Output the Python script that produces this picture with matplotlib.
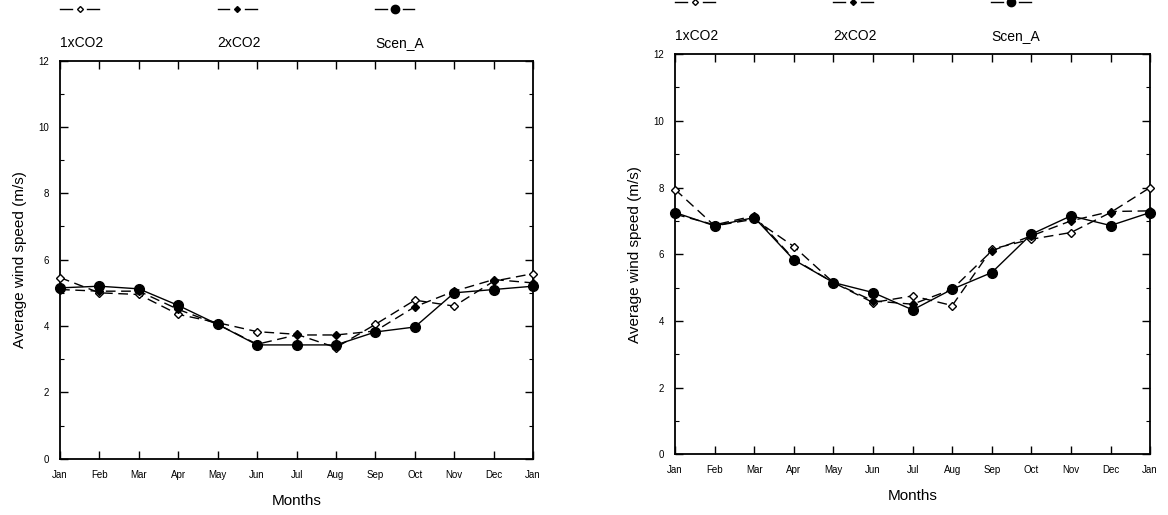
import numpy as np
import matplotlib.pyplot as plt
from matplotlib.lines import Line2D

plt.rcParams['font.family'] = ['Liberation Sans', 'DejaVu Sans']

months = ['Jan', 'Feb', 'Mar', 'Apr', 'May', 'Jun', 'Jul', 'Aug', 'Sep', 'Oct', 'Nov', 'Dec', 'Jan']

# left panel
left_1x = [5.46, 5.00, 4.95, 4.35, 4.10, 3.83, 3.75, 3.35, 4.05, 4.78, 4.60, 5.35, 5.58]
left_2x = [5.10, 5.05, 5.05, 4.50, 4.05, 3.45, 3.73, 3.73, 3.85, 4.58, 5.05, 5.40, 5.30]
left_A = [5.15, 5.20, 5.12, 4.62, 4.05, 3.43, 3.43, 3.43, 3.82, 3.97, 5.00, 5.10, 5.20]

# right panel
right_1x = [7.94, 6.85, 7.05, 6.23, 5.15, 4.55, 4.75, 4.46, 6.15, 6.45, 6.65, 7.25, 8.00]
right_2x = [7.20, 6.88, 7.15, 5.85, 5.15, 4.60, 4.50, 4.95, 6.10, 6.55, 7.00, 7.28, 7.30]
right_A = [7.25, 6.85, 7.10, 5.83, 5.15, 4.85, 4.33, 4.95, 5.45, 6.60, 7.15, 6.86, 7.25]

series_names = ['1xCO2', '2xCO2', 'Scen_A']

fig = plt.figure(figsize=(11.68, 5.15), dpi=100)
ax1 = fig.add_axes([0.0514, 0.1093, 0.405, 0.773])
ax2 = fig.add_axes([0.578, 0.1179, 0.4067, 0.777])

styles = [
    dict(ls=(0, (7, 4)), marker='D', ms=4, mfc='white', mec='black', lw=1.0),
    dict(ls=(0, (7, 4)), marker='D', ms=4, mfc='black', mec='black', lw=1.0),
    dict(ls='-', marker='o', ms=7, mfc='black', mec='black', lw=1.0),
]

x = np.arange(len(months))

for ax, data in [(ax1, [left_1x, left_2x, left_A]), (ax2, [right_1x, right_2x, right_A])]:
    for vals, st in zip(data, styles):
        ax.plot(x, vals, color='black', clip_on=False, zorder=3, **st)
    ax.set_xlim(0, 12)
    ax.set_ylim(0, 12)
    ax.set_xticks(x)
    ax.set_xticklabels(months, fontsize=7)
    ax.set_yticks(np.arange(0, 13, 2))
    ax.set_yticks(np.arange(1, 12, 2), minor=True)
    ax.tick_params(axis='both', direction='in', length=6, width=1.0, labelsize=7, pad=8)
    ax.tick_params(axis='y', which='minor', direction='in', length=3, width=0.8)
    ax.tick_params(axis='x', top=True)
    ax.tick_params(axis='y', right=True, which='both')
    for sp in ax.spines.values():
        sp.set_linewidth(1.3)
    ax.set_xlabel('Months', fontsize=11, labelpad=10)
    ax.set_ylabel('Average wind speed (m/s)', fontsize=11, labelpad=8)

    # legend drawn above the axes: "- marker -" sample over label
    for i, (name, st) in enumerate(zip(series_names, styles)):
        x0 = i * 0.333
        for seg in ([x0, x0 + 0.025], [x0 + 0.058, x0 + 0.083]):
            ax.add_line(Line2D(seg, [1.13, 1.13], transform=ax.transAxes,
                               color='black', lw=1.0, clip_on=False))
        ax.add_line(Line2D([x0 + 0.042], [1.13], transform=ax.transAxes, ls='none',
                           marker=st['marker'], ms=st['ms'] - 1, mfc=st['mfc'],
                           mec='black', clip_on=False))
        ax.text(x0, 1.045, name, transform=ax.transAxes, fontsize=10,
                ha='left', va='center')

fig.savefig('out.png', dpi=100)
